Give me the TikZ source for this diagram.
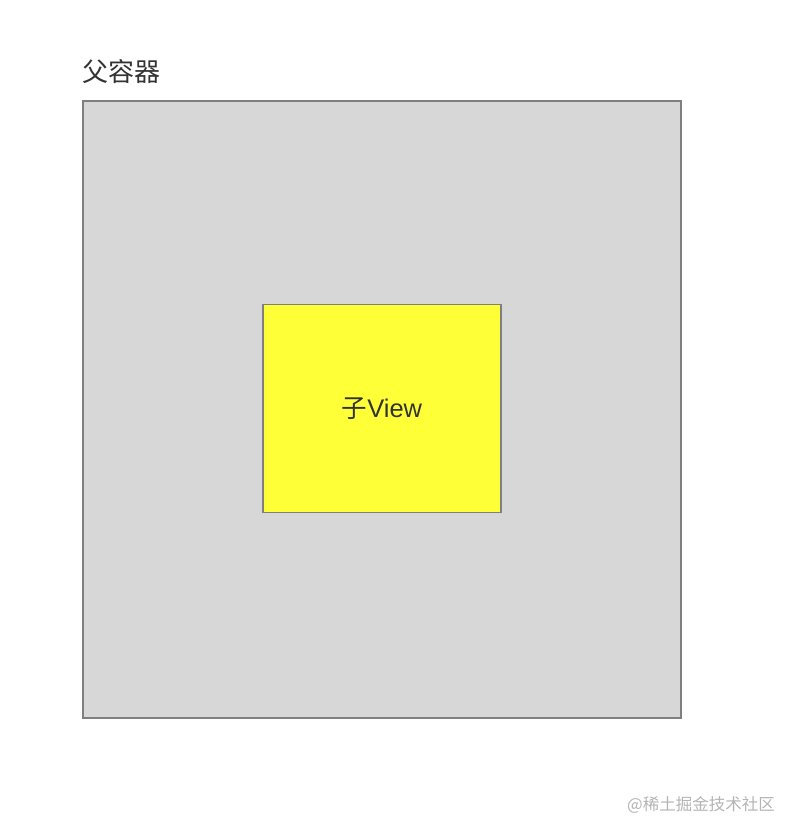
\documentclass[tikz,border=0pt]{standalone}
\usepackage{fontspec}
\setmainfont{Liberation Sans}
\newfontfamily\cjk{Noto Sans CJK SC}
\usetikzlibrary{positioning}
\definecolor{boxgray}{HTML}{D7D7D7}
\definecolor{edgegray}{HTML}{7F7F7F}
\definecolor{viewyellow}{HTML}{FFFF38}
\definecolor{textdark}{HTML}{333333}
\definecolor{markgray}{HTML}{B4B4B4}

\begin{document}
\begin{tikzpicture}[x=1pt, y=-1pt,
    container/.style={draw=edgegray, line width=1.6pt, fill=boxgray,
      minimum width=598pt, minimum height=617pt, inner sep=0pt},
    childview/.style={draw=edgegray, line width=1.6pt, fill=viewyellow,
      minimum width=238pt, minimum height=208pt, inner sep=0pt,
      text=textdark, font=\fontsize{25.5}{30}\selectfont},
    caption/.style={text=textdark, inner sep=0pt, font=\cjk\fontsize{26}{31}\selectfont}]
    \useasboundingbox (0,0) rectangle (800,838);

    \node[container] (parent) at (382,409.5) {};
    \node[childview] (child) at (382,408.5) {\raisebox{-2pt}{{\cjk 子}View}};
    \node[caption, anchor=base west] (parentlabel) at ([yshift=19pt]parent.north west) {父容器};
    \node[anchor=east, inner sep=0pt, text=markgray, font=\cjk\fontsize{16.5}{20}\selectfont]
      (watermark) at (775,805) {@稀土掘金技术社区};
  \end{tikzpicture}
\end{document}
